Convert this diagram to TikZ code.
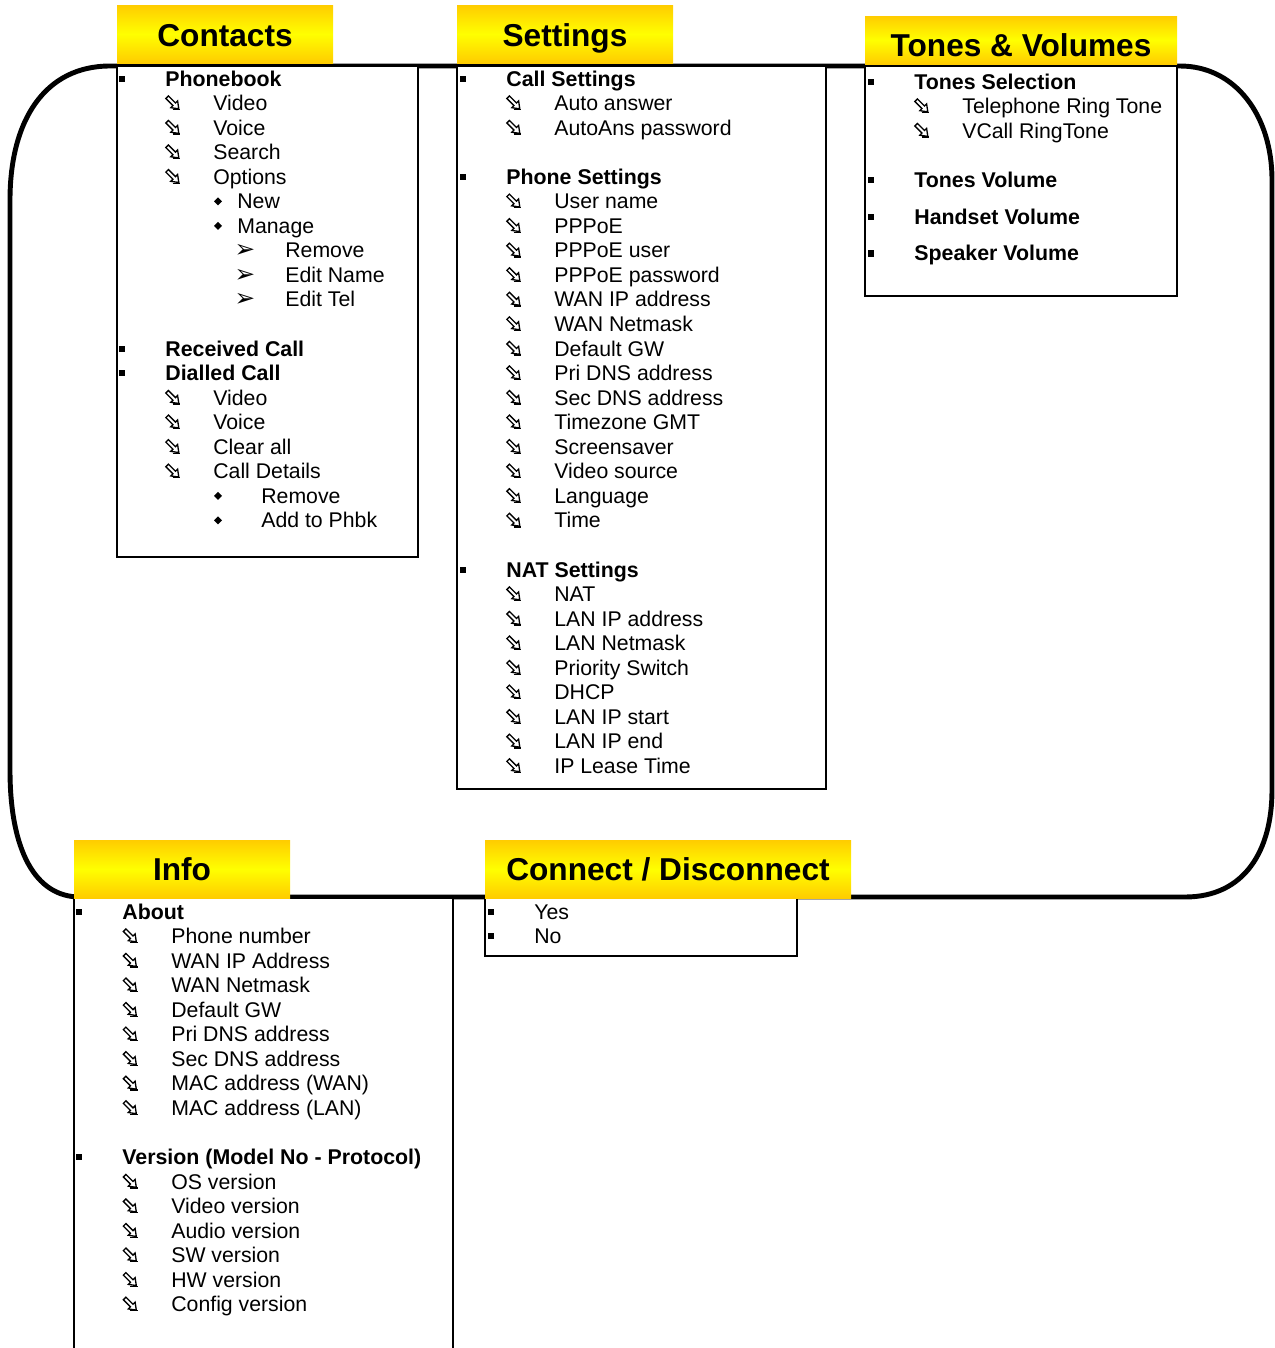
\documentclass[tikz,border=0pt]{standalone}
\usepackage{fontspec}
\setmainfont{Liberation Sans}
\newfontfamily\dingfont{DejaVu Sans}

\definecolor{hdorange}{HTML}{FFCC00}
\definecolor{hdyellow}{HTML}{FFFF00}

\tikzset{
    title/.style={font=\fontsize{18}{22}\selectfont\bfseries, anchor=base, inner sep=0pt},
    head/.style={font=\fontsize{12.15}{14}\selectfont\bfseries, anchor=base west, inner sep=0pt},
    entry/.style={font=\fontsize{12.1}{14}\selectfont, anchor=base west, inner sep=0pt},
    ding/.style={font=\dingfont\fontsize{14}{16}\selectfont, anchor=base, inner sep=0pt},
    hdr/.style={top color=hdorange, bottom color=hdorange, middle color=hdyellow},
    menubox/.style={draw, fill=white, line width=1pt},
    outline/.style={line width=2.8pt},
    hollow/.pic={
        \draw[line width=0.75pt, line join=miter, rotate=-45]
            (-9,-1.8) -- (1,-1.8) -- (1,-4.8) -- (7.5,0) -- (1,4.8) -- (1,1.8) -- (-9,1.8) -- cycle;
        \draw[line width=0.75pt] (-1,6) -- (6.5,6);
    }
}

\begin{document}
\begin{tikzpicture}[x=0.2mm, y=-0.2mm]
    \useasboundingbox (0,0) rectangle (1275,1348);

    % contorno arredondado
    \draw[outline] (110,66) -- (1180,66)
        .. controls (1235,66) and (1272,115) .. (1272,180) -- (1272,790)
        .. controls (1272,850) and (1245,897) .. (1185,897) -- (80,897)
        .. controls (35,897) and (10,850) .. (10,770) -- (10,200)
        .. controls (10,120) and (45,66) .. (110,66) -- cycle;

    % caixas
    \draw[menubox] (117,66) rectangle (418,557);
    \draw[menubox] (457,66) rectangle (826,789);
    \draw[menubox] (865,66) rectangle (1177,296);
    \draw[menubox] (74,1352) -- (74,898) -- (453,898) -- (453,1352);
    \draw[menubox] (485,898) rectangle (797,956);

    % titulos
    \shade[hdr] (117,5) rectangle (333,63);
    \node[title] (contacts) at (225,46) {Contacts};
    \shade[hdr] (457,5) rectangle (673,63);
    \node[title] (settings) at (565,46) {Settings};
    \shade[hdr] (865,16) rectangle (1177,64);
    \node[title] (tones) at (1021,56) {Tones \& Volumes};
    \shade[hdr] (74,840) rectangle (290,898);
    \node[title] (info) at (182,880) {Info};
    \shade[hdr] (485,840) rectangle (851,898);
    \node[title] (connect) at (668,880) {Connect / Disconnect};

    % Contacts
    \begin{scope}[shift={(121,86)}]
        \foreach \k/\lab [count=\i] in {0/Phonebook, 11/Received Call, 12/Dialled Call}{
            \pgfmathsetmacro\yb{24.55*\k}
            \fill (-2.5,\yb-10.5) rectangle (3.5,\yb-4.3);
            \node[head] (ct-h\i) at (44,\yb) {\lab};
        }
        \foreach \k/\lab [count=\i] in {1/Video, 2/Voice, 3/Search, 4/Options,
                13/Video, 14/Voice, 15/Clear all, 16/Call Details}{
            \pgfmathsetmacro\yb{24.55*\k}
            \pic at (52.5,\yb-7) {hollow};
            \node[entry] (ct-a\i) at (92,\yb) {\lab};
        }
        \foreach \k/\lab/\tx [count=\i] in {5/New/116, 6/Manage/116, 17/Remove/140, 18/Add to Phbk/140}{
            \pgfmathsetmacro\yb{24.55*\k}
            \fill (97,\yb-11.5) -- (101,\yb-7.5) -- (97,\yb-3.5) -- (93,\yb-7.5) -- cycle;
            \node[entry] (ct-d\i) at (\tx,\yb) {\lab};
        }
        \foreach \k/\lab [count=\i] in {7/Remove, 8/Edit Name, 9/Edit Tel}{
            \pgfmathsetmacro\yb{24.55*\k}
            \node[ding] (ct-g\i) at (124,\yb) {➢};
            \node[entry] (ct-r\i) at (164,\yb) {\lab};
        }
    \end{scope}

    % Settings
    \begin{scope}[shift={(462,86)}]
        \foreach \k/\lab [count=\i] in {0/Call Settings, 4/Phone Settings, 20/NAT Settings}{
            \pgfmathsetmacro\yb{24.55*\k}
            \fill (-2.5,\yb-10.5) rectangle (3.5,\yb-4.3);
            \node[head] (st-h\i) at (44,\yb) {\lab};
        }
        \foreach \k/\lab [count=\i] in {1/Auto answer, 2/AutoAns password,
                5/User name, 6/PPPoE, 7/PPPoE user, 8/PPPoE password, 9/WAN IP address,
                10/WAN Netmask, 11/Default GW, 12/Pri DNS address, 13/Sec DNS address,
                14/Timezone GMT, 15/Screensaver, 16/Video source, 17/Language, 18/Time,
                21/NAT, 22/LAN IP address, 23/LAN Netmask, 24/Priority Switch, 25/DHCP,
                26/LAN IP start, 27/LAN IP end, 28/IP Lease Time}{
            \pgfmathsetmacro\yb{24.55*\k}
            \pic at (52.5,\yb-7) {hollow};
            \node[entry] (st-a\i) at (92,\yb) {\lab};
        }
    \end{scope}

    % Tones & Volumes
    \begin{scope}[shift={(870,89)}]
        \foreach \k/\lab [count=\i] in {0/Tones Selection, 4/Tones Volume, 5.5/Handset Volume, 7/Speaker Volume}{
            \pgfmathsetmacro\yb{24.55*\k}
            \fill (-2.5,\yb-10.5) rectangle (3.5,\yb-4.3);
            \node[head] (tv-h\i) at (44,\yb) {\lab};
        }
        \foreach \k/\lab [count=\i] in {1/Telephone Ring Tone, 2/VCall RingTone}{
            \pgfmathsetmacro\yb{24.55*\k}
            \pic at (52.5,\yb-7) {hollow};
            \node[entry] (tv-a\i) at (92,\yb) {\lab};
        }
    \end{scope}

    % Info
    \begin{scope}[shift={(78,919)}]
        \foreach \k/\lab [count=\i] in {0/About, 10/Version (Model No - Protocol)}{
            \pgfmathsetmacro\yb{24.55*\k}
            \fill (-2.5,\yb-10.5) rectangle (3.5,\yb-4.3);
            \node[head] (in-h\i) at (44,\yb) {\lab};
        }
        \foreach \k/\lab [count=\i] in {1/Phone number, 2/WAN IP Address, 3/WAN Netmask,
                4/Default GW, 5/Pri DNS address, 6/Sec DNS address, 7/MAC address (WAN),
                8/MAC address (LAN), 11/OS version, 12/Video version, 13/Audio version,
                14/SW version, 15/HW version, 16/Config version}{
            \pgfmathsetmacro\yb{24.55*\k}
            \pic at (53,\yb-7) {hollow};
            \node[entry] (in-a\i) at (93,\yb) {\lab};
        }
    \end{scope}

    % Connect / Disconnect
    \begin{scope}[shift={(490,919)}]
        \foreach \k/\lab [count=\i] in {0/Yes, 1/No}{
            \pgfmathsetmacro\yb{24.55*\k}
            \fill (-2.5,\yb-10.5) rectangle (3.5,\yb-4.3);
            \node[entry] (cd-e\i) at (44,\yb) {\lab};
        }
    \end{scope}
\end{tikzpicture}
\end{document}
